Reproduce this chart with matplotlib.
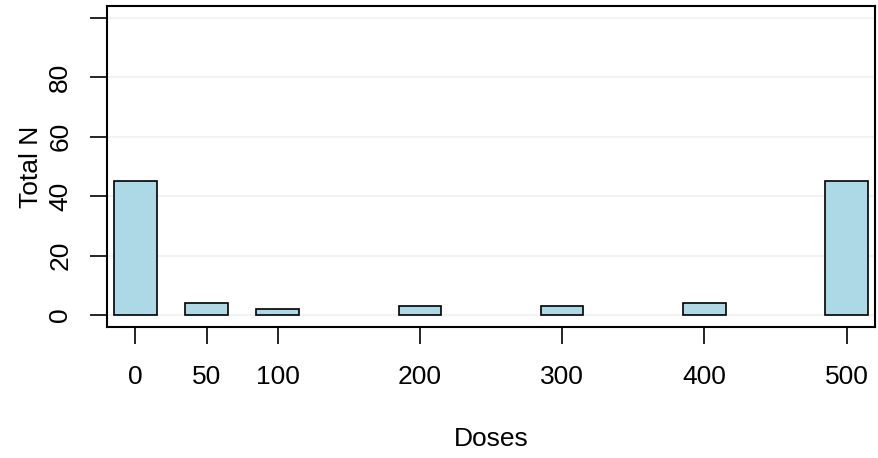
import matplotlib
matplotlib.use("Agg")
import matplotlib.pyplot as plt

doses = [0, 50, 100, 200, 300, 400, 500]
totals = [45, 4, 2, 3, 3, 4, 45]
yticks = [0, 20, 40, 60, 80, 100]
ytick_labels = ["0", "20", "40", "60", "80", ""]

plt.rcParams['font.family'] = ['Liberation Sans', 'DejaVu Sans']

fig = plt.figure(figsize=(8.79, 4.58), dpi=100)
ax = fig.add_axes([107/879, 1 - 327/458, (875 - 107)/879, (327 - 6)/458])

for y in yticks:
    ax.axhline(y, color='#f2f2f2', lw=1.5, zorder=0)

ax.bar(doses, totals, width=30, color='#ADD8E6', edgecolor='black', linewidth=1.2, zorder=2)

ax.set_xlim(-20, 520)
ax.set_ylim(-4, 104)
ax.set_xticks(doses)
ax.set_xticklabels([str(d) for d in doses])
ax.set_yticks(yticks)
ax.set_yticklabels(ytick_labels, rotation=90, va='center')

for s in ax.spines.values():
    s.set_linewidth(1.5)

ax.tick_params(axis='both', length=12, width=1.2, labelsize=19, direction='out')
ax.tick_params(axis='x', pad=15)
ax.tick_params(axis='y', pad=13)

ax.set_xlabel('Doses', fontsize=19, labelpad=28)
ax.set_ylabel('Total N', fontsize=19, labelpad=4)

fig.savefig('out.png', dpi=100)
